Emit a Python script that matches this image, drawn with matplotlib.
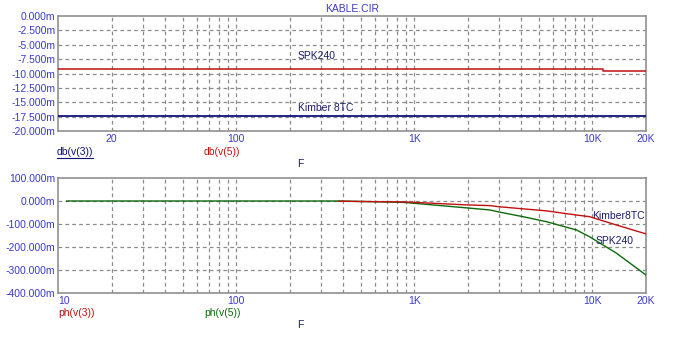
import numpy as np
import matplotlib
matplotlib.use("Agg")
import matplotlib.pyplot as plt
from matplotlib.lines import Line2D

plt.rcParams['font.family'] = ['Liberation Sans', 'DejaVu Sans']

# top panel: db(v) in milli-dB
db_freq_spk = [10, 11400, 11400, 20000]
db_spk = [-9.2, -9.2, -9.5, -9.5]
db_freq_kim = [10, 20000]
db_kim = [-17.4, -17.4]

# bottom panel: phase in milli-degrees
ph_freq_spk = [11.2, 100, 376, 868, 1000, 1976, 2660, 3000, 4064, 5533, 8140, 9620, 13600, 20000]
ph_spk = [0, 0, 0, -6, -10, -30, -39, -48, -68, -90, -126, -155, -226, -322]
ph_freq_kim = [376, 868, 1000, 1976, 2660, 3000, 5533, 8140, 9620, 13600, 20000]
ph_kim = [-1, -4, -6, -17, -20, -25, -43, -61, -68, -104, -143]

top_yticks = [0, -2.5, -5, -7.5, -10, -12.5, -15, -17.5, -20]
bot_yticks = [100, 0, -100, -200, -300, -400]
top_xticks = [20, 100, 1000, 10000, 20000]
bot_xticks = [10, 100, 1000, 10000, 20000]
x_labels_top = ['20', '100', '1K', '10K', '20K']
x_labels_bot = ['10', '100', '1K', '10K', '20K']

tick_col = '#3a3acc'
navy = '#1c1c6a'
red = '#c01010'
blue = '#10107a'
green = '#0c6a0c'
grid_col = '#8c8c8c'

W, H = 674, 338
fig = plt.figure(figsize=(W / 100, H / 100), dpi=100)
fig.patch.set_facecolor('white')


def frac(px, py):
    return px / W, 1 - py / H


def style_axes(ax, yticks, ylabels, xticks, xlabels, pad):
    ax.set_xscale('log')
    ax.set_xlim(10, 20000)
    grid_f = [m * 10 ** d for d in range(1, 5) for m in range(1, 10)]
    grid_f = [f for f in grid_f if 10 < f < 20000]
    for f in grid_f:
        ax.axvline(f, color=grid_col, lw=0.9, ls=(0, (3, 2.5)), zorder=1)
    for y in yticks[1:-1]:
        ax.axhline(y, color=grid_col, lw=0.9, ls=(0, (3, 2.5)), zorder=1)
    ax.set_yticks(yticks)
    ax.set_yticklabels(ylabels)
    ax.set_xticks(xticks)
    ax.set_xticklabels(xlabels)
    ax.minorticks_off()
    ax.tick_params(length=0, labelsize=7.5, labelcolor=tick_col, pad=2)
    ax.tick_params(axis='x', pad=pad)
    for s in ax.spines.values():
        s.set_color('#909090')
        s.set_linewidth(1.2)


# top panel
ax1 = fig.add_axes([58 / W, 1 - 131 / H, 588 / W, 115 / H])
style_axes(ax1, top_yticks, ['%.3fm' % v for v in top_yticks],
           top_xticks, x_labels_top, 2.5)
ax1.set_ylim(-20, 0)
ax1.plot(db_freq_spk, db_spk, color=red, lw=1.1, zorder=3)
ax1.plot(db_freq_kim, db_kim, color=blue, lw=1.3, zorder=3)
ax1.text(0.5, 1.015, 'KABLE.CIR', transform=ax1.transAxes, ha='center', va='bottom',
         color=tick_col, fontsize=7.5)
ax1.text(222, -7.0, 'SPK240', color=navy, fontsize=7.5, va='center')
ax1.text(222, -16.0, 'Kimber 8TC', color=navy, fontsize=7.5, va='center')

# bottom panel
ax2 = fig.add_axes([58 / W, 1 - 293 / H, 588 / W, 115 / H])
style_axes(ax2, bot_yticks, ['%.3fm' % v for v in bot_yticks],
           bot_xticks, x_labels_bot, 2.5)
ax2.set_ylim(-400, 100)
ax2.get_xticklabels()[0].set_horizontalalignment('left')
ax2.plot(ph_freq_spk, ph_spk, color=green, lw=1.0, zorder=3)
ax2.plot(ph_freq_kim, ph_kim, color=red, lw=1.0, zorder=4)
ax2.text(10000, -65, 'Kimber8TC', color=navy, fontsize=7.5, va='center')
ax2.text(10400, -174, 'SPK240', color=navy, fontsize=7.5, va='center')

# trace names under each panel
fs = 7.5
for (px, py, s, c) in [(57, 152, 'db(v(3))', blue), (204, 152, 'db(v(5))', red),
                       (58, 313, 'ph(v(3))', red), (204, 313, 'ph(v(5))', green)]:
    x, y = frac(px, py)
    fig.text(x, y, s, color=c, fontsize=fs, ha='left', va='center')
x0, y0 = frac(57, 158)
x1, _ = frac(93, 158)
fig.add_artist(Line2D([x0, x1], [y0, y0], color=blue, lw=0.8))
for py in (164, 325):
    x, y = frac(300, py)
    fig.text(x, y, 'F', color=navy, fontsize=fs, ha='center', va='center')

fig.savefig('out.png', dpi=100, facecolor='white')
